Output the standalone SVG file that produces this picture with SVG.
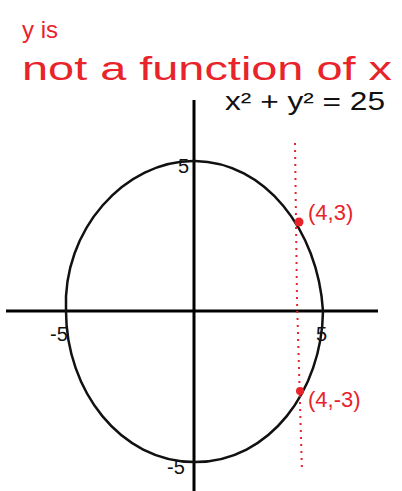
<svg xmlns="http://www.w3.org/2000/svg" width="402" height="491" viewBox="0 0 402 491">
<style>
.ax{stroke:#000;stroke-width:3;fill:none}
.cv{stroke:#111;stroke-width:2.5;fill:none}
.red{fill:#e8232a;font-family:"Liberation Sans",sans-serif}
.blk{fill:#111;font-family:"Liberation Sans",sans-serif}
.dot{stroke:#e8232a;stroke-width:2;stroke-dasharray:2 5;fill:none}
</style>
<rect width="402" height="491" fill="#fff"/>
<g id="axes">
<line class="ax" x1="194" y1="100" x2="194" y2="491"/>
<line class="ax" x1="6" y1="311" x2="378" y2="311"/>
</g>
<g id="circle">
<path class="cv" d="M195,161 C265,162 318,230 323,311 C322,390 270,462 195,462 C120,462 66,390 66,311 C62,230 125,160 195,161 Z"/>
</g>
<g id="connectors">
<path class="dot" d="M295,143 L297,300 L302,472"/>
</g>
<g id="labels">
<text class="blk" x="178" y="173" font-size="20">5</text>
<text class="blk" x="50" y="341" font-size="20">-5</text>
<text class="blk" x="316" y="341" font-size="20">5</text>
<text class="blk" x="167" y="474" font-size="20">-5</text>
<text class="blk" x="225" y="110" font-size="26" textLength="160" lengthAdjust="spacingAndGlyphs">x² + y² = 25</text>
</g>
<g id="p1"><circle cx="299" cy="222" r="4.5" fill="#e8232a"/><text class="red" x="308" y="220" font-size="22">(4,3)</text></g>
<g id="p2"><circle cx="300" cy="391" r="4" fill="#e8232a"/><text class="red" x="308" y="407" font-size="22">(4,-3)</text></g>
<g id="title">
<text class="red" x="22" y="38" font-size="24">y is</text>
<text class="red" x="22" y="80" font-size="34" textLength="370" lengthAdjust="spacingAndGlyphs">not a function of x</text>
</g>
</svg>
